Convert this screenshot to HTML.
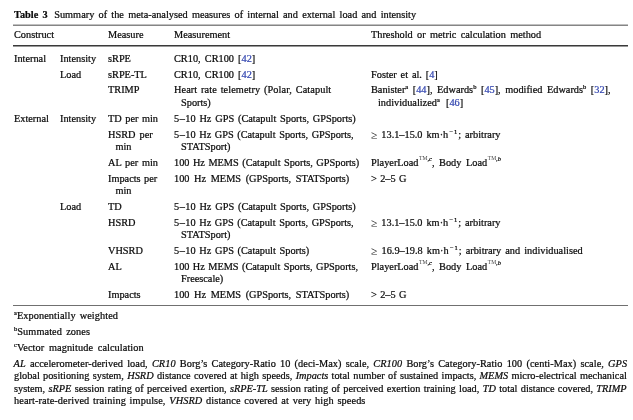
<!DOCTYPE html>
<html><head><meta charset="utf-8"><title>Table 3</title>
<style>
html,body{margin:0;padding:0;background:#fff;}
body{width:633px;height:420px;position:relative;overflow:hidden;font-family:"Liberation Serif","DejaVu Serif",serif;font-size:10.3px;color:#0a0a0a;-webkit-text-stroke:0.22px #0a0a0a;}
.t{position:absolute;white-space:nowrap;line-height:20px;height:20px;}
.r{color:#3346b0;-webkit-text-stroke:0.22px #3346b0;}
sup{font-size:6.5px;line-height:0;vertical-align:baseline;position:relative;top:-3.6px;}
sup.m{margin-left:1.3px;letter-spacing:0.9px;}
sup.tm{margin-left:0.6px;font-size:5.6px;top:-5.8px;color:#444;-webkit-text-stroke:0;}
sup.c{top:-4.6px;}
.hr{position:absolute;left:13px;width:615px;}
.d{margin:0 0.5px;}
.ge{font-size:11.6px;position:relative;top:1px;line-height:0;-webkit-text-stroke:0;color:#222;}
.gap{display:inline-block;width:6.6px;}
</style></head><body>
<div class="hr" style="top:24px;height:1px;background:#c0c0c0"></div>
<div class="hr" style="top:25px;height:1px;background:#858585"></div>
<div class="hr" style="top:45px;height:1px;background:#3a3a3a"></div>
<div class="hr" style="top:46px;height:1px;background:#989898"></div>
<div class="hr" style="top:305px;height:1px;background:#707070"></div>

<div class="t" id="l0" style="left:14.0px;top:5.00px;word-spacing:1.68px;"><b>Table 3</b><span class="gap"></span>Summary of the meta-analysed measures of internal and external load and intensity</div>
<div class="t" id="l1" style="left:14.0px;top:25.00px;word-spacing:0.60px;">Construct</div>
<div class="t" id="l2" style="left:108.0px;top:25.00px;word-spacing:0.60px;">Measure</div>
<div class="t" id="l3" style="left:174.0px;top:25.00px;word-spacing:0.60px;">Measurement</div>
<div class="t" id="l4" style="left:371.0px;top:25.00px;word-spacing:1.78px;">Threshold or metric calculation method</div>
<div class="t" id="l5" style="left:14.0px;top:49.00px;word-spacing:0.60px;">Internal</div>
<div class="t" id="l6" style="left:60.0px;top:49.00px;word-spacing:0.60px;">Intensity</div>
<div class="t" id="l7" style="left:108.0px;top:49.00px;word-spacing:0.60px;">sRPE</div>
<div class="t" id="l8" style="left:174.0px;top:49.00px;word-spacing:1.59px;">CR10, CR100 [<span class="r">42</span>]</div>
<div class="t" id="l9" style="left:60.0px;top:65.00px;word-spacing:0.60px;">Load</div>
<div class="t" id="l10" style="left:108.0px;top:65.00px;word-spacing:0.60px;">sRPE-TL</div>
<div class="t" id="l11" style="left:174.0px;top:65.00px;word-spacing:1.59px;">CR10, CR100 [<span class="r">42</span>]</div>
<div class="t" id="l12" style="left:371.0px;top:65.00px;word-spacing:1.29px;">Foster et al. [<span class="r">4</span>]</div>
<div class="t" id="l13" style="left:108.0px;top:80.00px;word-spacing:0.60px;">TRIMP</div>
<div class="t" id="l14" style="left:174.0px;top:80.00px;word-spacing:1.16px;letter-spacing:0.08px;">Heart rate telemetry (Polar, Catapult</div>
<div class="t" id="l15" style="left:181.0px;top:93.00px;word-spacing:0.60px;">Sports)</div>
<div class="t" id="l16" style="left:371.0px;top:80.00px;word-spacing:1.99px;">Banister<sup>a</sup> [<span class="r">44</span>], Edwards<sup>b</sup> [<span class="r">45</span>], modified Edwards<sup>b</sup> [<span class="r">32</span>],</div>
<div class="t" id="l17" style="left:378.0px;top:93.00px;word-spacing:3.66px;">individualized<sup>a</sup> [<span class="r">46</span>]</div>
<div class="t" id="l18" style="left:14.0px;top:109.00px;word-spacing:0.60px;">External</div>
<div class="t" id="l19" style="left:60.0px;top:109.00px;word-spacing:0.60px;">Intensity</div>
<div class="t" id="l20" style="left:108.0px;top:109.00px;word-spacing:0.97px;">TD per min</div>
<div class="t" id="l21" style="left:174.0px;top:109.00px;word-spacing:1.24px;">5<span class="d">–</span>10 Hz GPS (Catapult Sports, GPSports)</div>
<div class="t" id="l22" style="left:108.0px;top:125.00px;word-spacing:1.50px;">HSRD per</div>
<div class="t" id="l23" style="left:115.5px;top:137.00px;word-spacing:0.60px;">min</div>
<div class="t" id="l24" style="left:174.0px;top:125.00px;word-spacing:1.01px;">5<span class="d">–</span>10 Hz GPS (Catapult Sports, GPSports,</div>
<div class="t" id="l25" style="left:181.0px;top:137.00px;word-spacing:0.60px;">STATSport)</div>
<div class="t" id="l26" style="left:371.0px;top:125.00px;word-spacing:1.38px;"><span class="ge">≥</span> 13.1–15.0 km·h<sup class="m">−1</sup>; arbitrary</div>
<div class="t" id="l27" style="left:108.0px;top:153.00px;word-spacing:1.17px;">AL per min</div>
<div class="t" id="l28" style="left:174.0px;top:153.00px;word-spacing:0.90px;">100 Hz MEMS (Catapult Sports, GPSports)</div>
<div class="t" id="l29" style="left:371.0px;top:153.00px;word-spacing:1.98px;">PlayerLoad<sup class="tm">TM</sup><sup class="c"><i>,c</i></sup>, Body Load<sup class="tm">TM</sup><sup class="c"><i>,b</i></sup></div>
<div class="t" id="l30" style="left:108.0px;top:169.00px;word-spacing:0.88px;">Impacts per</div>
<div class="t" id="l31" style="left:115.5px;top:181.00px;word-spacing:0.60px;">min</div>
<div class="t" id="l32" style="left:174.0px;top:169.00px;word-spacing:2.05px;">100 Hz MEMS (GPSports, STATSports)</div>
<div class="t" id="l33" style="left:371.0px;top:169.00px;word-spacing:0.83px;">&gt; 2–5 G</div>
<div class="t" id="l34" style="left:60.0px;top:197.00px;word-spacing:0.60px;">Load</div>
<div class="t" id="l35" style="left:108.0px;top:197.00px;word-spacing:0.60px;">TD</div>
<div class="t" id="l36" style="left:174.0px;top:197.00px;word-spacing:1.24px;">5<span class="d">–</span>10 Hz GPS (Catapult Sports, GPSports)</div>
<div class="t" id="l37" style="left:108.0px;top:213.00px;word-spacing:0.60px;">HSRD</div>
<div class="t" id="l38" style="left:174.0px;top:213.00px;word-spacing:1.01px;">5<span class="d">–</span>10 Hz GPS (Catapult Sports, GPSports,</div>
<div class="t" id="l39" style="left:181.0px;top:225.00px;word-spacing:0.60px;">STATSport)</div>
<div class="t" id="l40" style="left:371.0px;top:213.00px;word-spacing:1.38px;"><span class="ge">≥</span> 13.1–15.0 km·h<sup class="m">−1</sup>; arbitrary</div>
<div class="t" id="l41" style="left:108.0px;top:241.00px;word-spacing:0.60px;">VHSRD</div>
<div class="t" id="l42" style="left:174.0px;top:241.00px;word-spacing:1.10px;">5<span class="d">–</span>10 Hz GPS (Catapult Sports)</div>
<div class="t" id="l43" style="left:371.0px;top:241.00px;word-spacing:1.58px;"><span class="ge">≥</span> 16.9–19.8 km·h<sup class="m">−1</sup>; arbitrary and individualised</div>
<div class="t" id="l44" style="left:108.0px;top:257.00px;word-spacing:0.60px;">AL</div>
<div class="t" id="l45" style="left:174.0px;top:257.00px;word-spacing:0.82px;">100 Hz MEMS (Catapult Sports, GPSports,</div>
<div class="t" id="l46" style="left:181.0px;top:269.00px;word-spacing:0.60px;">Freescale)</div>
<div class="t" id="l47" style="left:371.0px;top:257.00px;word-spacing:1.98px;">PlayerLoad<sup class="tm">TM</sup><sup class="c"><i>,c</i></sup>, Body Load<sup class="tm">TM</sup><sup class="c"><i>,b</i></sup></div>
<div class="t" id="l48" style="left:108.0px;top:285.00px;word-spacing:0.60px;">Impacts</div>
<div class="t" id="l49" style="left:174.0px;top:285.00px;word-spacing:2.05px;">100 Hz MEMS (GPSports, STATSports)</div>
<div class="t" id="l50" style="left:371.0px;top:285.00px;word-spacing:0.83px;">&gt; 2–5 G</div>
<div class="t" id="l51" style="left:14.0px;top:306.00px;word-spacing:1.40px;letter-spacing:0.07px;"><sup>a</sup>Exponentially weighted</div>
<div class="t" id="l52" style="left:14.0px;top:322.00px;word-spacing:1.62px;letter-spacing:0.07px;"><sup>b</sup>Summated zones</div>
<div class="t" id="l53" style="left:14.0px;top:338.00px;word-spacing:2.05px;letter-spacing:0.07px;"><sup>c</sup>Vector magnitude calculation</div>
<div class="t" id="l54" style="left:13.6px;top:354.00px;word-spacing:1.52px;letter-spacing:0.06px;"><i>AL</i> accelerometer-derived load, <i>CR10</i> Borg’s Category-Ratio 10 (deci-Max) scale, <i>CR100</i> Borg’s Category-Ratio 100 (centi-Max) scale, <i>GPS</i></div>
<div class="t" id="l55" style="left:14.0px;top:366.00px;word-spacing:0.76px;">global positioning system, <i>HSRD</i> distance covered at high speeds, <i>Impacts</i> total number of sustained impacts, <i>MEMS</i> micro-electrical mechanical</div>
<div class="t" id="l56" style="left:14.0px;top:379.00px;word-spacing:0.74px;">system, <i>sRPE</i> session rating of perceived exertion, <i>sRPE-TL</i> session rating of perceived exertion training load, <i>TD</i> total distance covered, <i>TRIMP</i></div>
<div class="t" id="l57" style="left:14.0px;top:391.00px;word-spacing:1.09px;letter-spacing:0.09px;">heart-rate-derived training impulse, <i>VHSRD</i> distance covered at very high speeds</div>
</body></html>
